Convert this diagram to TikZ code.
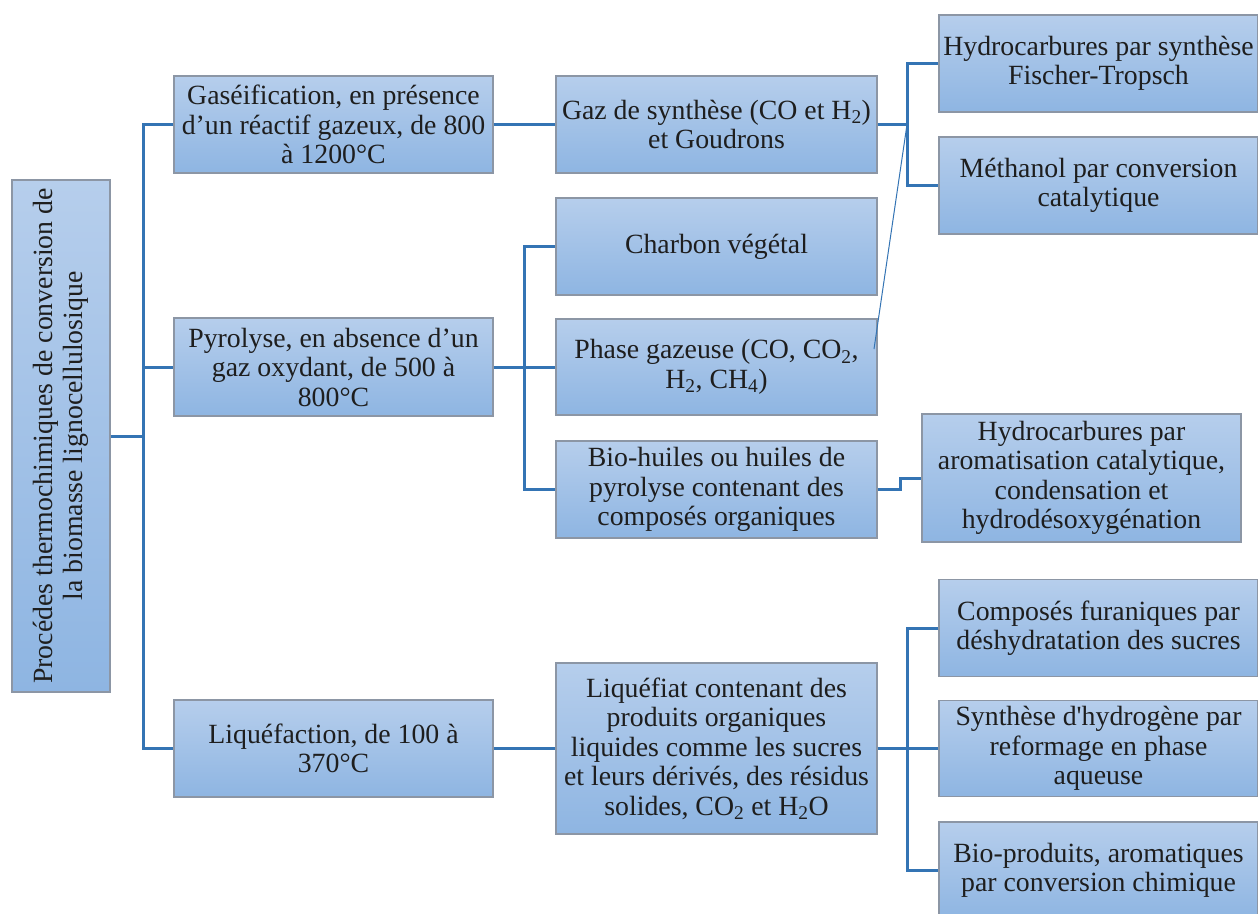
\documentclass[tikz,border=0pt]{standalone}
\usepackage{fontspec}
\setmainfont{LiberationSerif}[Extension=.ttf, UprightFont=*-Regular, BoldFont=*-Bold, ItalicFont=*-Italic, BoldItalicFont=*-BoldItalic]
\definecolor{boxtop}{RGB}{182,206,236}
\definecolor{boxbot}{RGB}{142,181,226}
\definecolor{boxborder}{RGB}{140,150,165}
\definecolor{conncol}{RGB}{52,116,180}
\definecolor{textc}{RGB}{30,30,30}
\newcommand\boxfont{\fontsize{27.8}{29.5}\selectfont}
\tikzset{
  box/.style={draw=boxborder, line width=1.2pt, top color=boxtop, bottom color=boxbot,
    minimum width=319pt, minimum height=97pt, inner sep=0pt, align=center,
    font=\boxfont, text=textc},
  widebox/.style={box, minimum width=321pt},
  conn/.style={draw=conncol, line width=3pt},
  thinconn/.style={draw=conncol, line width=1pt},
}
\begin{document}
\begin{tikzpicture}[x=1pt,y=-1pt]
\useasboundingbox (0,0) rectangle (1258,913);
\fill[white] (0,0) rectangle (1258,913);
\clip (0,0) rectangle (1258,913);

% root
\node[box, minimum width=98pt, minimum height=512pt] (root) at (61,436) {};
\node[rotate=90, align=center, font=\boxfont, text=textc] (roottext) at (root.center)
  {Procédes thermochimiques de conversion de\\la biomasse lignocellulosique};

% level 1
\node[box] (gas) at (333.5,124.5) {Gaséification, en présence\\d’un réactif gazeux, de 800\\à 1200°C};
\node[box, minimum height=98pt] (pyr) at (333.5,367) {Pyrolyse, en absence d’un\\gaz oxydant, de 500 à\\800°C};
\node[box] (liq) at (333.5,748.5) {Liquéfaction, de 100 à\\370°C};

% level 2
\node[widebox] (syn) at (716.5,124.5) {Gaz de synthèse (CO et H\textsubscript{2})\\et Goudrons};
\node[widebox] (char) at (716.5,246.5) {Charbon végétal};
\node[widebox, minimum height=96pt] (phase) at (716.5,367) {Phase gazeuse (CO, CO\textsubscript{2},\\H\textsubscript{2}, CH\textsubscript{4})};
\node[widebox] (bio) at (716.5,489.5) {Bio-huiles ou huiles de\\pyrolyse contenant des\\composés organiques};
\node[widebox, minimum height=171pt] (liqf) at (716.5,748.5) {Liquéfiat contenant des\\produits organiques\\liquides comme les sucres\\et leurs dérivés, des résidus\\solides, CO\textsubscript{2} et H\textsubscript{2}O};

% level 3
\node[box] (ft) at (1098.5,63.5) {Hydrocarbures par synthèse\\Fischer-Tropsch};
\node[box] (meth) at (1098.5,185.5) {Méthanol par conversion\\catalytique};
\node[box, minimum height=128pt] (arom) at (1081.5,478) {Hydrocarbures par\\aromatisation catalytique,\\condensation et\\hydrodésoxygénation};
\node[box] (fur) at (1098.5,628) {Composés furaniques par\\déshydratation des sucres};
\node[box, minimum height=96pt] (hyd) at (1098.5,748.5) {Synthèse d\textquotesingle hydrogène par\\reformage en phase\\aqueuse};
\node[box] (biop) at (1098.5,870.5) {Bio-produits, aromatiques\\par conversion chimique};

% connectors from root
\coordinate (j0) at (143,436);
\draw[conn] (root.east) -- (j0);
\draw[conn] (gas.west) -| (j0) |- (liq.west);
\draw[conn] (j0 |- pyr.west) -- (pyr.west);

% level1 -> level2
\draw[conn] (gas.east) -- (syn.west);
\draw[conn] (liq.east) -- (liqf.west);
\coordinate (j1) at (524,367);
\draw[conn] (pyr.east) -- (j1);
\draw[conn] (char.west) -| (j1) |- (bio.west);
\draw[conn] (j1) -- (phase.west);

% syngas -> level 3
\coordinate (j2) at (907,124.5);
\draw[conn] (syn.east) -- (j2);
\draw[conn] (ft.west) -| (j2) |- (meth.west);
\coordinate (pg) at (874,349);
\draw[thinconn] (pg) -- (j2);

% bio-huiles -> aromatisation
\coordinate (j3) at (900,489.5);
\draw[conn] (bio.east) -- (j3) |- (arom.west);

% liquefiat -> level 3
\coordinate (j4) at (907,748.5);
\draw[conn] (liqf.east) -- (j4);
\draw[conn] (fur.west) -| (j4) |- (biop.west);
\draw[conn] (j4) -- (hyd.west);
\end{tikzpicture}
\end{document}
